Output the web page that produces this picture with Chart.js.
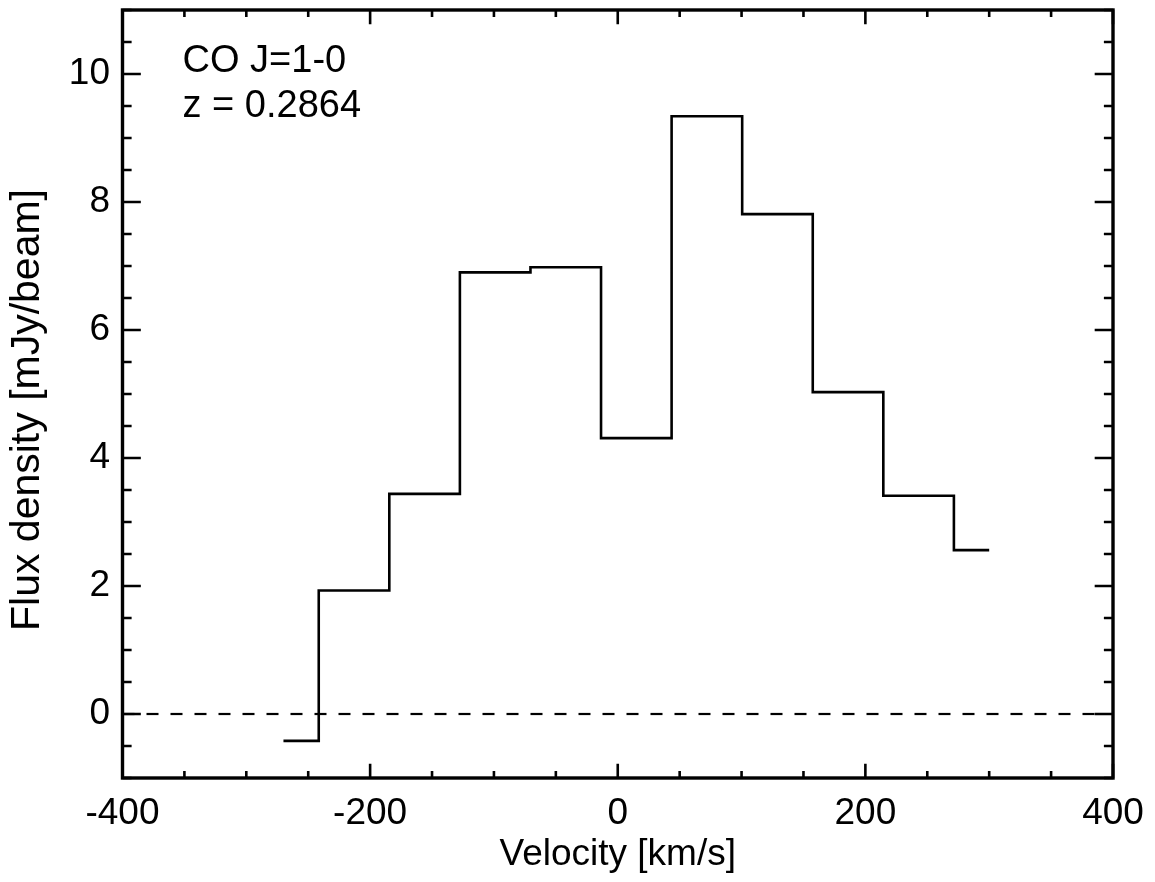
<!DOCTYPE html>
<html>
<head>
<meta charset="utf-8">
<script src="https://cdn.jsdelivr.net/npm/chart.js@4/dist/chart.umd.min.js"></script>
<style>
  html, body { margin: 0; padding: 0; background: #fff; }
  #wrap { width: 1155px; height: 882px; }
</style>
</head>
<body>
<div id="wrap"><canvas id="spectrum" width="1155" height="882"></canvas></div>
<script>
// channel centres (km/s) and flux density (mJy/beam)
const velocity = [-270, -213, -156, -99, -42, 15, 72, 129, 186, 243, 300];
const flux = [-0.42, 1.93, 3.44, 6.90, 6.98, 4.31, 9.34, 7.81, 5.03, 3.41, 2.56];

const xTicks = [-400, -200, 0, 200, 400];
const yTicks = [0, 2, 4, 6, 8, 10];
const xMinorStep = 50;
const yMinorStep = 0.5;
const xRange = [-400, 400];
const yRange = [-1, 11];

const labelLines = ["CO J=1-0", "z = 0.2864"];
const yTitle = "Flux density [mJy/beam]";

const FONT = "'Liberation Sans', Arial, Helvetica, sans-serif";

function minorValues(range, step) {
  const out = [];
  for (let v = range[0]; v <= range[1] + 1e-9; v += step) out.push(v);
  return out;
}

// frame, inward ticks on all four sides, y title and the line label
const idlFrame = {
  id: "idlFrame",
  afterDatasetsDraw(chart) {
    const ctx = chart.ctx;
    const a = chart.chartArea;
    const xs = chart.scales.x;
    const ys = chart.scales.y;
    const h = a.bottom - a.top;
    const w = a.right - a.left;
    ctx.save();
    ctx.strokeStyle = "#000";
    ctx.lineCap = "butt";

    ctx.lineWidth = 2.6;
    ctx.beginPath();
    minorValues(xRange, xMinorStep).forEach(function (v) {
      const len = xTicks.includes(v) ? 0.0185 * h : 0.0092 * h;
      const px = xs.getPixelForValue(v);
      ctx.moveTo(px, a.bottom); ctx.lineTo(px, a.bottom - len);
      ctx.moveTo(px, a.top); ctx.lineTo(px, a.top + len);
    });
    minorValues(yRange, yMinorStep).forEach(function (v) {
      const len = yTicks.includes(v) ? 0.0185 * w : 0.0092 * w;
      const py = ys.getPixelForValue(v);
      ctx.moveTo(a.left, py); ctx.lineTo(a.left + len, py);
      ctx.moveTo(a.right, py); ctx.lineTo(a.right - len, py);
    });
    ctx.stroke();

    ctx.lineWidth = 3.4;
    ctx.strokeRect(a.left, a.top, w, h);

    ctx.fillStyle = "#000";
    ctx.font = "38px " + FONT;
    ctx.textBaseline = "alphabetic";
    ctx.textAlign = "left";
    labelLines.forEach(function (t, i) {
      ctx.fillText(t, a.left + 60, a.top + 62 + i * 45);
    });

    // y axis title, IDL puts it a little below the axis centre
    ctx.save();
    ctx.translate(28, (a.top + a.bottom) / 2 + 16);
    ctx.rotate(-Math.PI / 2);
    ctx.font = "41px " + FONT;
    ctx.textAlign = "center";
    ctx.textBaseline = "middle";
    ctx.fillText(yTitle, 0, 0);
    ctx.restore();

    ctx.restore();
  }
};

new Chart(document.getElementById("spectrum"), {
  type: "line",
  data: {
    datasets: [
      {
        data: velocity.map(function (v, i) { return { x: v, y: flux[i] }; }),
        stepped: "middle",
        borderColor: "#000",
        borderWidth: 2.6,
        pointRadius: 0,
        fill: false
      },
      {
        data: xRange.map(function (v) { return { x: v, y: 0 }; }),
        borderColor: "#000",
        borderWidth: 2.2,
        borderDash: [12, 12],
        pointRadius: 0,
        fill: false
      }
    ]
  },
  options: {
    responsive: false,
    animation: false,
    events: [],
    layout: { padding: { top: 10, right: 42, left: 0, bottom: 0 } },
    plugins: { legend: { display: false }, tooltip: { enabled: false } },
    scales: {
      x: {
        type: "linear",
        min: xRange[0],
        max: xRange[1],
        grid: { display: false, drawTicks: false },
        border: { display: false },
        afterBuildTicks: function (s) { s.ticks = xTicks.map(function (v) { return { value: v }; }); },
        afterFit: function (s) { s.height = 104; s.paddingLeft = 0; s.paddingRight = 0; },
        ticks: { color: "#000", padding: 14, maxRotation: 0, font: { family: FONT, size: 37 } },
        title: {
          display: true,
          text: "Velocity [km/s]",
          color: "#000",
          padding: { top: 0, bottom: 5 },
          font: { family: FONT, size: 37 }
        }
      },
      y: {
        type: "linear",
        min: yRange[0],
        max: yRange[1],
        grid: { display: false, drawTicks: false },
        border: { display: false },
        afterBuildTicks: function (s) { s.ticks = yTicks.map(function (v) { return { value: v }; }); },
        afterFit: function (s) { s.width = 122.5; s.paddingTop = 0; s.paddingBottom = 0; },
        ticks: { color: "#000", padding: 12.5, font: { family: FONT, size: 37 } },
        title: { display: false }
      }
    }
  },
  plugins: [idlFrame]
});
</script>
</body>
</html>
